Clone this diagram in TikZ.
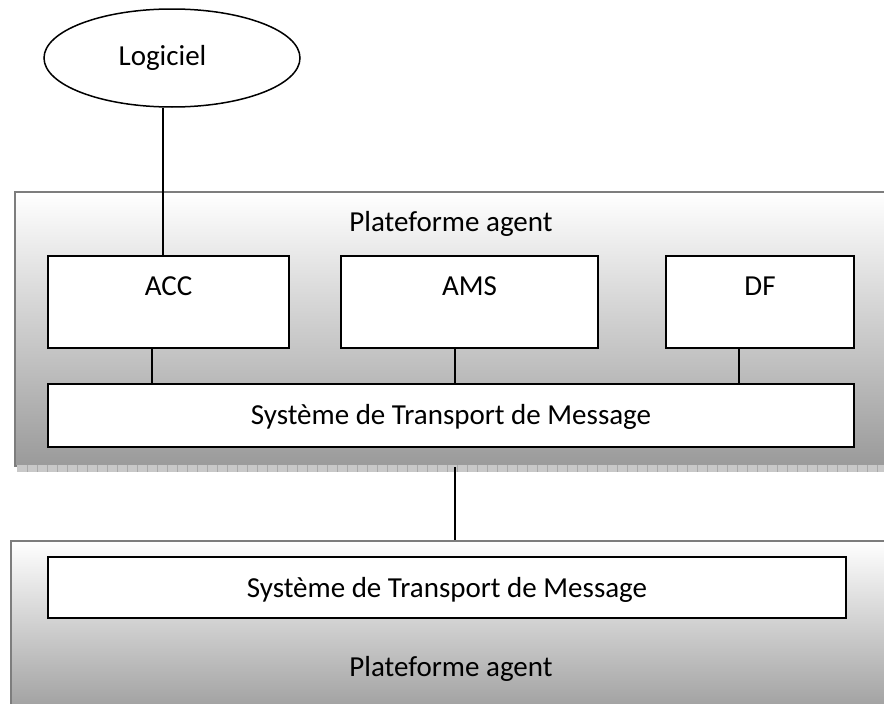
\documentclass[tikz,border=0pt]{standalone}
\usepackage{fontspec}
\setmainfont{Carlito}
\usetikzlibrary{shapes.geometric}
\definecolor{platbot}{RGB}{154,154,154}
\definecolor{platedge}{RGB}{125,125,125}
\definecolor{shadowfill}{RGB}{200,200,200}
\definecolor{shadowline}{RGB}{170,170,170}
\tikzset{
  txt/.style={font=\fontsize{29}{34}\selectfont},
  platform/.style={rectangle, draw=platedge, line width=2pt, top color=white, bottom color=platbot, inner sep=0pt, anchor=north west},
  compbox/.style={rectangle, draw=black, line width=2pt, fill=white, inner sep=0pt, txt, anchor=north west},
  conn/.style={draw=black, line width=1.7pt},
}
\begin{document}
\begin{tikzpicture}[x=1pt,y=-1pt]
\clip (0,0) rectangle (884,704);
\fill[white] (0,0) rectangle (884,704);
% platform 1
\node[platform, minimum width=890pt, minimum height=274pt] (plat1) at (14,191) {};
% shadow of platform 1
\fill[shadowfill] (17,465) rectangle (884,472);
\foreach \i in {27,37,...,884} \draw[shadowline, line width=0.5pt] (\i,465) -- (\i,472);
% platform 2
\node[platform, minimum width=890pt, minimum height=180pt] (plat2) at (10,540) {};
% labels
\node[txt, inner sep=0pt, anchor=base] (pa1) at (451,231) {Plateforme agent};
\node[txt, inner sep=0pt, anchor=base] (pa2) at (451,676) {Plateforme agent};
% ellipse
\node[ellipse, draw=black, line width=1.5pt, fill=white, minimum width=256pt, minimum height=98pt, inner sep=0pt, txt] (logiciel) at (172,58) {\hspace*{-19pt}Logiciel};
% component boxes
\node[compbox, minimum width=241pt, text height=39pt, text depth=53pt] (acc) at (47,255) {ACC};
\node[compbox, minimum width=257pt, text height=39pt, text depth=53pt] (ams) at (340,255) {AMS};
\node[compbox, minimum width=188pt, text height=39pt, text depth=53pt] (df) at (665,255) {DF};
\node[compbox, minimum width=806pt, text height=40pt, text depth=23pt] (stm1) at (47,383) {Système de Transport de Message};
\node[compbox, minimum width=798pt, text height=40pt, text depth=21pt] (stm2) at (47,556) {Système de Transport de Message};
% connectors
\coordinate (xa) at (163,0);
\coordinate (xb) at (152,0);
\coordinate (xc) at (455,0);
\coordinate (xd) at (739,0);
\draw[conn] (logiciel.south -| xa) -- (acc.north -| xa);
\draw[conn] (acc.south -| xb) -- (stm1.north -| xb);
\draw[conn] (ams.south -| xc) -- (stm1.north -| xc);
\draw[conn] (df.south -| xd) -- (stm1.north -| xd);
\draw[conn] (plat1.south -| xc) -- (plat2.north -| xc);
\end{tikzpicture}
\end{document}
